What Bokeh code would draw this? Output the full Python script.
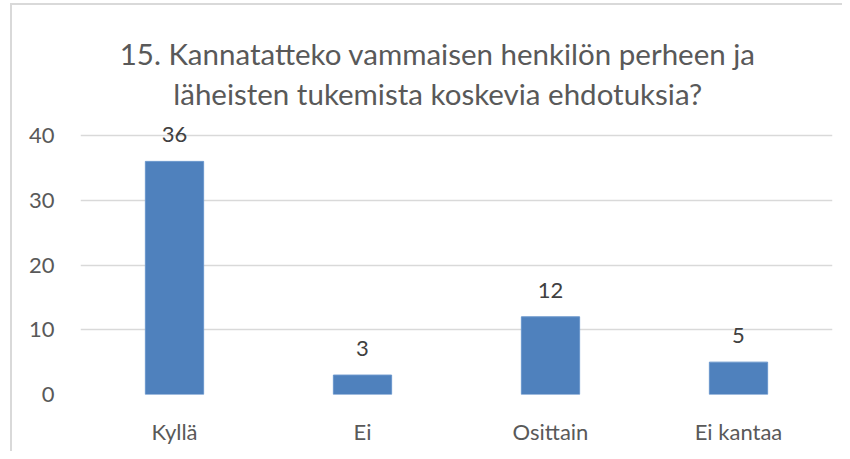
from bokeh.plotting import figure
from bokeh.models import ColumnDataSource, LabelSet, Label, Range1d, FactorRange
from bokeh.core.properties import value
from bokeh.embed import file_html
from bokeh.resources import INLINE

categories = ["Kyllä", "Ei", "Osittain", "Ei kantaa"]
values = [36, 3, 12, 5]
labels = [str(v) for v in values]
y_ticks = [0, 10, 20, 30, 40]
title_lines = ["15. Kannatatteko vammaisen henkilön perheen ja",
               "läheisten tukemista koskevia ehdotuksia?"]

FONT = "Lato"
TXT = "#595959"

src = ColumnDataSource(dict(cat=categories, val=values, lab=labels))

# frame spans the whole top of the figure so that the title and value labels are not clipped;
# the value 40 sits at 135 px from the top, 0 at 394 px.
p = figure(width=842, height=451, x_range=FactorRange(*categories, range_padding=0),
           y_range=Range1d(0, 60.85), output_backend="svg", toolbar_location=None,
           min_border_left=80, min_border_right=10, min_border_bottom=57, min_border_top=0)
p.border_fill_color = None
p.background_fill_color = None
p.styles = {
    "background": "linear-gradient(#d9d9d9,#d9d9d9) 10px 3px / 2px 100% no-repeat, "
                  "linear-gradient(#d9d9d9,#d9d9d9) 10px 3px / 100% 2px no-repeat, #ffffff"
}

p.vbar(x="cat", top="val", width=0.31, source=src, fill_color="#4F81BD",
       line_color="#6a96cc", line_width=1)

p.add_layout(LabelSet(x="cat", y="val", text="lab", source=src, text_align="center",
                      text_baseline="alphabetic", y_offset=19, text_font=value(FONT),
                      text_font_size="22px", text_color="#404040"))

title_y = [52.66, 46.49]
for line, ty in zip(title_lines, title_y):
    p.add_layout(Label(x=1.9, y=ty, text=line, text_align="center", text_baseline="alphabetic",
                       text_font=FONT, text_font_size="29.5px", text_color=TXT))

for ax in (p.xaxis, p.yaxis):
    ax.axis_line_color = None
    ax.major_tick_line_color = None
    ax.minor_tick_line_color = None
    ax.major_tick_out = 0
    ax.major_tick_in = 0
    ax.major_label_text_font = FONT
    ax.major_label_text_font_size = "22px"
    ax.major_label_text_color = TXT

p.yaxis.ticker = y_ticks
p.yaxis.major_label_standoff = 26
p.xaxis.major_label_standoff = 23

p.xgrid.grid_line_color = None
p.ygrid.grid_line_color = "#d9d9d9"
p.ygrid.grid_line_width = 1.5
p.outline_line_color = None

open("out.html", "w").write(file_html(p, INLINE))
